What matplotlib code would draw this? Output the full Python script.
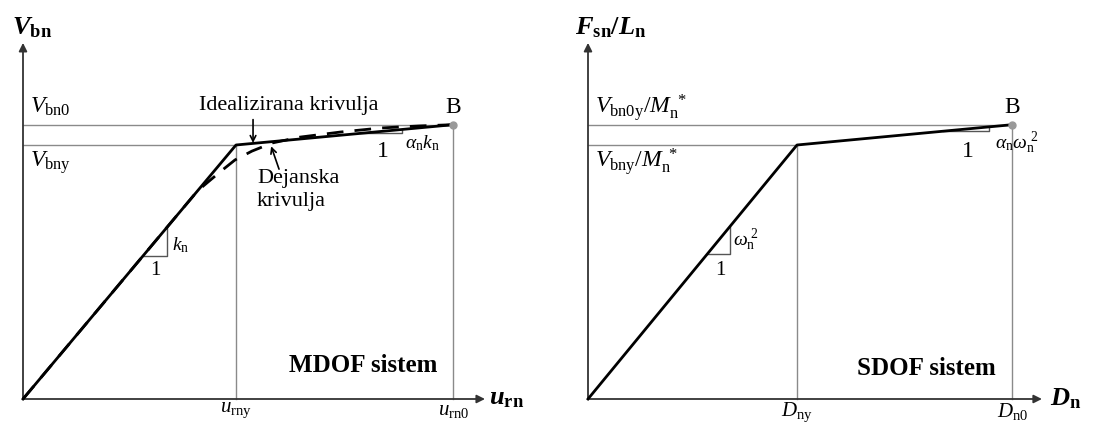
import numpy as np
import matplotlib
matplotlib.use('Agg')
import matplotlib.pyplot as plt

plt.rcParams['font.family'] = ['Liberation Serif', 'DejaVu Serif']
plt.rcParams['mathtext.fontset'] = 'custom'
plt.rcParams['mathtext.rm'] = 'Liberation Serif'
plt.rcParams['mathtext.it'] = 'Liberation Serif:italic'
plt.rcParams['mathtext.bf'] = 'Liberation Serif:bold'
plt.rcParams['mathtext.bfit'] = 'Liberation Serif:bold:italic'

# MDOF (pushover) - normalizirano na tocko tecenja
u_y, u_0 = 1.0, 2.02
V_y, V_0 = 1.0, 1.08
ideal_u = [0.0, 1.0, 2.02]
ideal_V = [0.0, 1.0, 1.08]
actual_u = [0.0, 0.82, 0.925, 0.995, 1.075, 1.17, 1.30, 1.49, 1.68, 1.86, 2.02]
actual_V = [0.0, 0.82, 0.894, 0.941, 0.976, 1.008, 1.031, 1.051, 1.067, 1.075, 1.08]

# SDOF
D_y, D_0 = 1.0, 2.03
F_y, F_0 = 1.0, 1.08
sdof_D = [0.0, 1.0, 2.03]
sdof_F = [0.0, 1.0, 1.08]

GRAY = '#8a8a8a'
AX = '#333333'

fig = plt.figure(figsize=(11.09, 4.25), dpi=100)
ax1 = fig.add_axes([0, 0, 550 / 1109, 1])
ax2 = fig.add_axes([550 / 1109, 0, 559 / 1109, 1])

# meje tako da je izhodisce na pravem mestu
ax1.set_xlim(-23 / 213, 527 / 213)
ax2.set_xlim(-38 / 209, 521 / 209)
for ax in (ax1, ax2):
    ax.set_ylim(-26 / 254, 399 / 254)
    ax.axis('off')


def osi(ax, xend, yend):
    ax.annotate('', xy=(xend, 0), xytext=(0, 0),
                arrowprops=dict(arrowstyle='-|>', color=AX, lw=1.3,
                                mutation_scale=12, shrinkA=0, shrinkB=0))
    ax.annotate('', xy=(0, yend), xytext=(0, 0),
                arrowprops=dict(arrowstyle='-|>', color=AX, lw=1.3,
                                mutation_scale=12, shrinkA=0, shrinkB=0))


def pomozne(ax, xy, x0, yy, y0):
    ax.plot([0, x0], [y0, y0], color=GRAY, lw=1.0)
    ax.plot([0, xy], [yy, yy], color=GRAY, lw=1.0)
    ax.plot([xy, xy], [0, yy], color=GRAY, lw=1.0)
    ax.plot([x0, x0], [0, y0], color=GRAY, lw=1.0)
    ax.plot([x0], [y0], 'o', color='#999999', ms=5, zorder=5)
    ax.text(x0, 1.146, 'B', ha='center', va='center', fontsize=17)


def trikotnik(ax, xa, xb, ya, yb, lw=1.0):
    ax.plot([xa, xb, xb], [ya, ya, yb], color='#555555', lw=lw)


# ---------------- MDOF ----------------
osi(ax1, 2.169, 1.402)
pomozne(ax1, u_y, u_0, V_y, V_0)
ax1.plot(ideal_u, ideal_V, color='black', lw=2.0, zorder=4)
ax1.plot(actual_u, actual_V, color='black', lw=2.0, dashes=(6, 4), zorder=4)

trikotnik(ax1, 0.563, 0.676, 0.563, 0.676)
ax1.text(0.70, 0.606, r'$k_{\mathrm{n}}$', fontsize=14, va='center')
ax1.text(0.62, 0.505, '1', fontsize=15, ha='center', va='center')
trikotnik(ax1, 1.58, 1.78, 1.0455, 1.061)
ax1.text(1.69, 0.975, '1', fontsize=17, ha='center', va='center')
ax1.text(1.793, 1.006, r'$\alpha_{\mathrm{n}}k_{\mathrm{n}}$', fontsize=14, va='center')

ax1.text(-0.052, 1.46, r'$\mathbfit{V}_{\mathbf{bn}}$', fontsize=19, va='center')
ax1.text(2.19, 0.0, r'$\mathbfit{u}_{\mathbf{rn}}$', fontsize=19, va='center')
ax1.text(0.033, 1.126, r'$V_{\mathrm{bn0}}$', fontsize=17, va='baseline')
ax1.text(0.033, 0.913, r'$V_{\mathrm{bny}}$', fontsize=17, va='baseline')
ax1.text(u_y, -0.006, r'$u_{\mathrm{rny}}$', fontsize=15, ha='center', va='top')
ax1.text(u_0, -0.006, r'$u_{\mathrm{rn0}}$', fontsize=15, ha='center', va='top')

ax1.text(1.249, 1.157, 'Idealizirana krivulja', fontsize=16, ha='center', va='center')
ax1.annotate('', xy=(1.08, 1.008), xytext=(1.08, 1.10),
             arrowprops=dict(arrowstyle='->', color='black', lw=1.2, shrinkA=0, shrinkB=0))
ax1.text(1.099, 0.905, 'Dejanska\nkrivulja', fontsize=16, ha='left', va='top',
         linespacing=1.25)
ax1.annotate('', xy=(1.165, 0.995), xytext=(1.202, 0.905),
             arrowprops=dict(arrowstyle='->', color='black', lw=1.2, shrinkA=0, shrinkB=0))
ax1.text(1.945, 0.13, 'MDOF sistem', fontsize=18, fontweight='bold', ha='right', va='center')

# ---------------- SDOF ----------------
osi(ax2, 2.172, 1.402)
pomozne(ax2, D_y, D_0, F_y, F_0)
ax2.plot(sdof_D, sdof_F, color='black', lw=2.0, zorder=4)

trikotnik(ax2, 0.569, 0.679, 0.569, 0.679)
ax2.text(0.694, 0.626, r'$\omega_{\mathrm{n}}^{\ 2}$', fontsize=14, va='center')
ax2.text(0.632, 0.505, '1', fontsize=15, ha='center', va='center')
trikotnik(ax2, 1.70, 1.92, 1.0545, 1.0717)
ax2.text(1.818, 0.975, '1', fontsize=17, ha='center', va='center')
ax2.text(1.947, 1.006, r'$\alpha_{\mathrm{n}}\omega_{\mathrm{n}}^{\ 2}$', fontsize=14, va='center')

ax2.text(-0.062, 1.46, r'$\mathbfit{F}_{\mathbf{sn}}\mathbf{/}\mathbfit{L}_{\mathbf{n}}$',
         fontsize=19, va='center')
ax2.text(2.21, 0.0, r'$\mathbfit{D}_{\mathbf{n}}$', fontsize=19, va='center')
ax2.text(0.033, 1.126, r'$V_{\mathrm{bn0y}}/M_{\mathrm{n}}^{\ *}$', fontsize=17, va='baseline')
ax2.text(0.033, 0.913, r'$V_{\mathrm{bny}}/M_{\mathrm{n}}^{\ *}$', fontsize=17, va='baseline')
ax2.text(D_y, -0.006, r'$D_{\mathrm{ny}}$', fontsize=15, ha='center', va='top')
ax2.text(D_0, -0.006, r'$D_{\mathrm{n0}}$', fontsize=15, ha='center', va='top')
ax2.text(1.95, 0.12, 'SDOF sistem', fontsize=18, fontweight='bold', ha='right', va='center')

fig.savefig('out.png', dpi=100)
